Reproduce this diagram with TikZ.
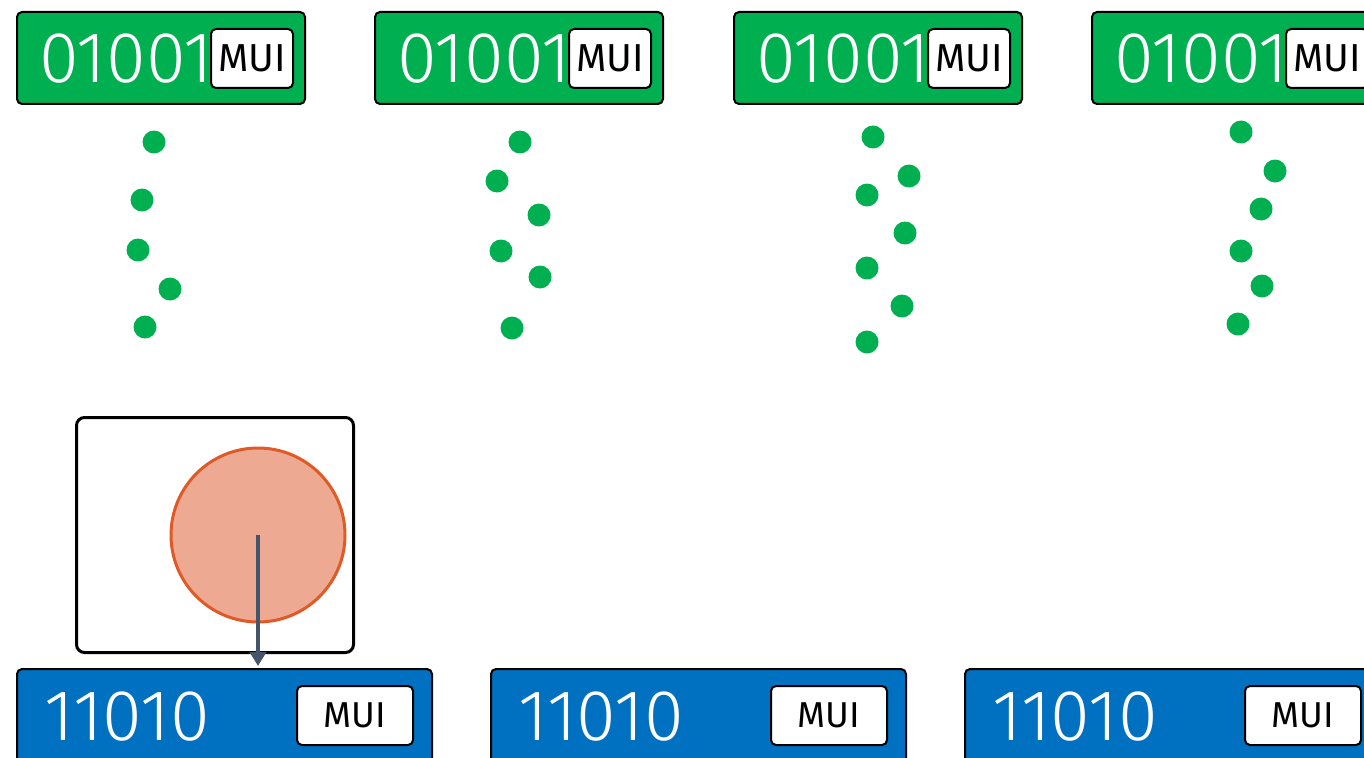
\documentclass[tikz,border=0pt]{standalone}
\usepackage{fontspec}
\setmainfont{Fira Sans}
\newfontfamily\thinfont{Fira Sans Light}
\usetikzlibrary{arrows.meta}
\definecolor{codegreen}{HTML}{00B050}
\definecolor{codeblue}{HTML}{0070C0}
\definecolor{ballfill}{HTML}{EEA992}
\definecolor{ballline}{HTML}{E05A28}
\definecolor{arrowgray}{HTML}{44546A}
\tikzset{
  word/.style={draw=black, line width=2pt, rounded corners=5pt, anchor=north west, inner sep=0pt},
  tag/.style={draw=black, fill=white, line width=2pt, rounded corners=5pt, anchor=north west, inner sep=0pt, minimum height=59pt},
  bits/.style={text=white, anchor=base west, inner sep=0pt, font=\thinfont\fontsize{72}{72}\selectfont},
  bead/.style={circle, fill=codegreen, minimum size=23pt, inner sep=0pt}
}
\begin{document}
\begin{tikzpicture}[x=1pt, y=-1pt, >=Triangle]
	\useasboundingbox (0,0) rectangle (1364,757);
	\clip (0,0) rectangle (1364,757);
	% top row: green words
	\foreach \i/\x in {1/16,2/374,3/733,4/1091}{
		\node[word, fill=codegreen, minimum width=288pt, minimum height=92pt] (g\i) at (\x,11) {};
		\node[bits] (gt\i) at (\x+23,83) {01001};
		\node[tag, minimum width=82pt, font=\fontsize{39}{39}\selectfont] (gm\i) at (\x+194,28) {MUI};
	}
	% falling bits
	\foreach \x/\y [count=\k] in {154/142,142/200,138/250,170/289,145/327,
		520/142,497/181,539/215,501/251,540/277,512/328,
		873/137,909/176,867/195,905/233,867/268,902/306,867/342,
		1241/132,1275/171,1261/209,1241/251,1262/286,1238/324}
		\node[bead] (d\k) at (\x,\y) {};
	% bottom row: blue words
	\foreach \i/\x in {1/16,2/490,3/964}{
		\node[word, fill=codeblue, minimum width=415pt, minimum height=100pt] (b\i) at (\x,668) {};
		\node[bits] (bt\i) at (\x+28,740) {11010};
		\node[tag, minimum width=116pt, font=\fontsize{36}{36}\selectfont] (bm\i) at (\x+280,685) {MUI};
	}
	% the collision box
	\node[draw=black, line width=3pt, rounded corners=8pt, anchor=north west, minimum width=277pt, minimum height=235pt, inner sep=0pt] (frame) at (75,416) {};
	\node[circle, draw=ballline, fill=ballfill, line width=3pt, minimum size=174pt, inner sep=0pt] (ball) at (258,535) {};
	\draw[arrowgray, line width=3.5pt, shorten >=2pt, -{Triangle[length=14pt,width=16pt]}] (ball.center) -- (ball.center |- b1.north);
\end{tikzpicture}
\end{document}
